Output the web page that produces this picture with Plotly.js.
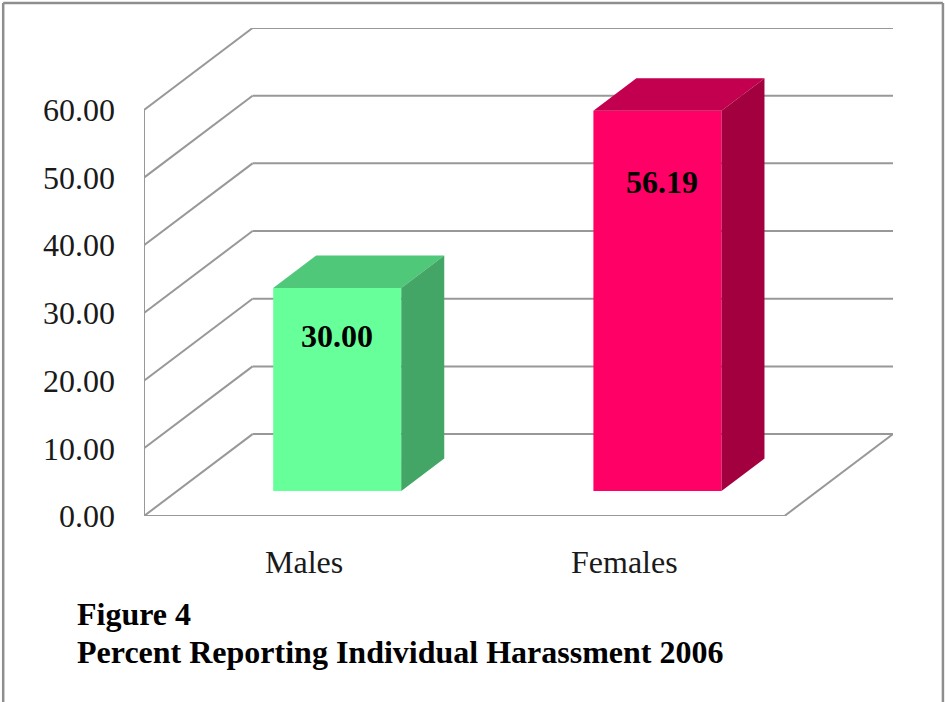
<!DOCTYPE html>
<html>
<head>
<meta charset="utf-8">
<title>Figure 4</title>
<script src="https://cdn.plot.ly/plotly-3.0.1.min.js"></script>
<style>html,body{margin:0;padding:0;background:#fff}#chart{width:945px;height:702px}</style>
</head>
<body>
<div id="chart"></div>
<script>
// ---- data ----
const categories = ["Males", "Females"];
const percents = [30.00, 56.19];
const valueTicks = [0, 10, 20, 30, 40, 50, 60];
const figureLines = ["Figure 4", "Percent Reporting Individual Harassment 2006"];

// ---- styles ----
const frontColors = ["#66FF99", "#FF0066"];
const topColors = ["#50C87A", "#C2004F"];
const sideColors = ["#43A666", "#A3003F"];
const gridColor = "#989898";
const serif = "'Liberation Serif','Times New Roman',serif";

// ---- oblique projection, in axis units ----
const W = 945, H = 702, M = {l: 143.5, r: 51.5, t: 28, b: 186, pad: 0};
const depthX = 0.339, depthY = 12.1;      // wall depth
const barStart = 0.305, barDepth = 0.396; // fraction of depth
const barWidth = 0.4;
const yMax = 60, nCat = categories.length;
const sx = barStart * depthX, sy = barStart * depthY;
const bx = barDepth * depthX, by = barDepth * depthY;
const centers = categories.map((_, i) => i + 0.5);

// pixel -> paper helpers for page furniture
const pw = W - M.l - M.r, ph = H - M.t - M.b;
const px = v => (v - M.l) / pw, py = v => 1 - (v - M.t) / ph;

// walls and grid, under the bars
const line = (x0, y0, x1, y1) => ({type: "line", xref: "x", yref: "y", x0, y0, x1, y1, layer: "below",
  line: {color: gridColor, width: 2}});
const shapes = [];
valueTicks.forEach(v => {
  shapes.push(line(0, v, depthX, v + depthY));
  shapes.push(line(depthX, v + depthY, nCat + depthX, v + depthY));
});
shapes.push(line(0, 0, 0, yMax));
shapes.push(line(0, 0, nCat, 0));
shapes.push(line(nCat, 0, nCat + depthX, depthY));

// page frame
const frame = (x0, y0, x1, y1) => ({type: "line", xref: "paper", yref: "paper", x0: px(x0), y0: py(y0), x1: px(x1), y1: py(y1),
  line: {color: "#8E8E8E", width: 2.5}});
shapes.push(frame(2.5, 3, 943.5, 3), frame(2.5, 3, 2.5, 702), frame(943.5, 3, 943.5, 702));

// traces
const front = {
  type: "bar",
  x: centers.map(c => c + sx),
  y: percents,
  base: percents.map(() => sy),
  width: barWidth,
  marker: {color: frontColors, line: {width: 0}},
  hoverinfo: "skip",
  showlegend: false
};
const poly = (xs, ys, color) => ({type: "scatter", mode: "none", x: xs, y: ys, fill: "toself", fillcolor: color,
  hoverinfo: "skip", showlegend: false});
const tops = percents.map((v, i) => {
  const l = centers[i] - barWidth / 2 + sx, r = l + barWidth, t = v + sy;
  return poly([l, r, r + bx, l + bx, l], [t, t, t + by, t + by, t], topColors[i]);
});
const sides = percents.map((v, i) => {
  const r = centers[i] + barWidth / 2 + sx;
  return poly([r, r + bx, r + bx, r, r], [sy, sy + by, v + sy + by, v + sy, sy], sideColors[i]);
});

// annotations
const valueLabel = (i, xp, yp) => ({xref: "paper", yref: "paper", x: px(xp), y: py(yp), xanchor: "center", yanchor: "middle",
  text: "<b>" + percents[i].toFixed(2) + "</b>", showarrow: false, font: {family: serif, size: 32, color: "#000"}});
const captionLine = (txt, yp) => ({xref: "paper", yref: "paper", x: px(74), y: py(yp), xanchor: "left", yanchor: "middle",
  text: "<b>" + txt + "</b>", showarrow: false, font: {family: serif, size: 32, color: "#000"}});

const layout = {
  width: W, height: H, margin: M,
  paper_bgcolor: "#fff", plot_bgcolor: "rgba(0,0,0,0)",
  showlegend: false, barmode: "overlay",
  xaxis: {range: [0, nCat + depthX], tickmode: "array", tickvals: centers, ticktext: categories,
    showgrid: false, zeroline: false, showline: false, ticks: "", ticklabelstandoff: 24,
    tickfont: {family: serif, size: 32, color: "#1a1a1a"}, fixedrange: true},
  yaxis: {range: [0, yMax + depthY], tickmode: "array", tickvals: valueTicks,
    ticktext: valueTicks.map(v => v.toFixed(2)),
    showgrid: false, zeroline: false, showline: false, ticks: "", ticklabelstandoff: 28,
    tickfont: {family: serif, size: 32, color: "#1a1a1a"}, fixedrange: true},
  shapes,
  annotations: [
    valueLabel(0, 337, 336), valueLabel(1, 662, 182),
    captionLine(figureLines[0], 614), captionLine(figureLines[1], 652)
  ]
};
Plotly.newPlot("chart", [front, ...tops, ...sides], layout, {displayModeBar: false, staticPlot: true});
</script>
</body>
</html>
